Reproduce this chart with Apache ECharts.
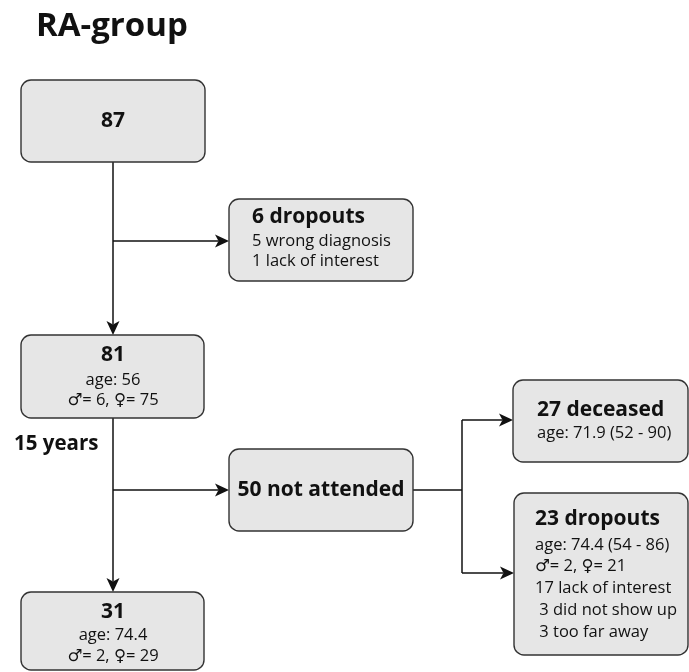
<!DOCTYPE html>
<html><head><meta charset="utf-8">
<script src="https://cdn.jsdelivr.net/npm/echarts@6/dist/echarts.min.js"></script>
<style>html,body{margin:0;padding:0;background:#fff}#c{width:689px;height:672px}</style>
</head><body><div id="c"></div>
<script>
// ---- content ----
const chartTitle = 'RA-group';
const periodLabel = '15 years';
const nodeHeads = ['87', '6 dropouts', '81', '50 not attended', '27 deceased', '23 dropouts', '31'];
const nodeLines = [
  [],
  ['5 wrong diagnosis', '1 lack of interest'],
  ['age: 56', '\u2642= 6, \u2640= 75'],
  [],
  ['age: 71.9 (52 - 90)'],
  ['age: 74.4 (54 - 86)', '\u2642= 2, \u2640= 21', '17 lack of interest', ' 3 did not show up', ' 3 too far away'],
  ['age: 74.4', '\u2642= 2, \u2640= 29']
];

// ---- layout (pixel space of the hidden axes) ----
const boxes = [
  {r: [21, 80, 205, 162], align: 'center', tx: 113, ys: [121]},
  {r: [229, 199, 413, 281], align: 'left', tx: 252, ys: [217, 241, 261]},
  {r: [21, 335, 204, 418], align: 'center', tx: 113, ys: [355, 380, 400]},
  {r: [229, 449, 413, 531], align: 'center', tx: 321, ys: [490]},
  {r: [513, 380, 688, 462], align: 'left', tx: 537, ys: [410, 433]},
  {r: [514, 493, 688, 655], align: 'left', tx: 535, ys: [519, 545, 566, 588, 610, 632]},
  {r: [21, 592, 204, 670], align: 'center', tx: 113, ys: [612, 635, 656]}
];
const connectors = [
  {p: [[113, 162], [113, 335]], arrow: true},
  {p: [[113, 241], [229, 241]], arrow: true},
  {p: [[113, 418], [113, 592]], arrow: true},
  {p: [[113, 490], [229, 490]], arrow: true},
  {p: [[413, 490], [462, 490]], arrow: false},
  {p: [[462, 420], [462, 573]], arrow: false},
  {p: [[462, 420], [513, 420]], arrow: true},
  {p: [[462, 573], [514, 573]], arrow: true}
];

const FONT = '"Open Sans", "DejaVu Sans", sans-serif';
const HEAD_SIZE = 21, BODY_SIZE = 16.5;

function renderBox(params, api) {
  const i = api.value(0);
  const b = boxes[i];
  const p0 = api.coord([b.r[0], b.r[1]]);
  const p1 = api.coord([b.r[2], b.r[3]]);
  const children = [{
    type: 'rect',
    shape: {x: p0[0], y: p0[1], width: p1[0] - p0[0], height: p1[1] - p0[1], r: 10},
    style: {fill: '#e6e6e6', stroke: '#333', lineWidth: 1.4}
  }];
  const texts = [nodeHeads[i]].concat(nodeLines[i]);
  texts.forEach(function (t, k) {
    const pt = api.coord([b.tx, b.ys[k]]);
    children.push({
      type: 'text',
      style: {
        text: t, x: pt[0], y: pt[1],
        align: b.align, verticalAlign: 'middle',
        font: (k === 0 ? 'bold ' + HEAD_SIZE : BODY_SIZE) + 'px ' + FONT,
        fill: '#111'
      }
    });
  });
  return {type: 'group', children: children};
}

function renderConnector(params, api) {
  const c = connectors[api.value(0)];
  const a = api.coord(c.p[0]);
  const b = api.coord(c.p[1]);
  const children = [];
  const dx = b[0] - a[0], dy = b[1] - a[1];
  const len = Math.sqrt(dx * dx + dy * dy);
  const ux = dx / len, uy = dy / len;
  const L = 14, W = 6.5, N = 3.5;
  const end = c.arrow ? [b[0] - ux * (L - N), b[1] - uy * (L - N)] : b;
  children.push({
    type: 'line',
    shape: {x1: a[0], y1: a[1], x2: end[0], y2: end[1]},
    style: {stroke: '#111', lineWidth: 1.5}
  });
  if (c.arrow) {
    const bx = b[0] - ux * L, by = b[1] - uy * L;
    const px = -uy, py = ux;
    children.push({
      type: 'polygon',
      shape: {points: [
        [b[0], b[1]],
        [bx + px * W, by + py * W],
        [bx + ux * N, by + uy * N],
        [bx - px * W, by - py * W]
      ]},
      style: {fill: '#111'}
    });
  }
  return {type: 'group', children: children};
}

const chart = echarts.init(document.getElementById('c'), null, {renderer: 'canvas'});
chart.setOption({
  animation: false,
  backgroundColor: '#fff',
  grid: {left: 0, right: 0, top: 0, bottom: 0},
  xAxis: {type: 'value', min: 0, max: 689, show: false},
  yAxis: {type: 'value', min: 0, max: 672, inverse: true, show: false},
  title: [
    {text: chartTitle, left: 36, top: 10, padding: 0, textStyle: {fontFamily: FONT, fontWeight: 'bold', fontSize: 33, color: '#111'}},
    {text: periodLabel, left: 14, top: 434, padding: 0, textStyle: {fontFamily: FONT, fontWeight: 'bold', fontSize: 20.5, color: '#111'}}
  ],
  series: [
    {type: 'custom', renderItem: renderConnector, data: connectors.map(function (c, i) { return [i]; }), silent: true, clip: false},
    {type: 'custom', renderItem: renderBox, data: boxes.map(function (b, i) { return [i]; }), silent: true, clip: false}
  ]
});
</script>
</body></html>
